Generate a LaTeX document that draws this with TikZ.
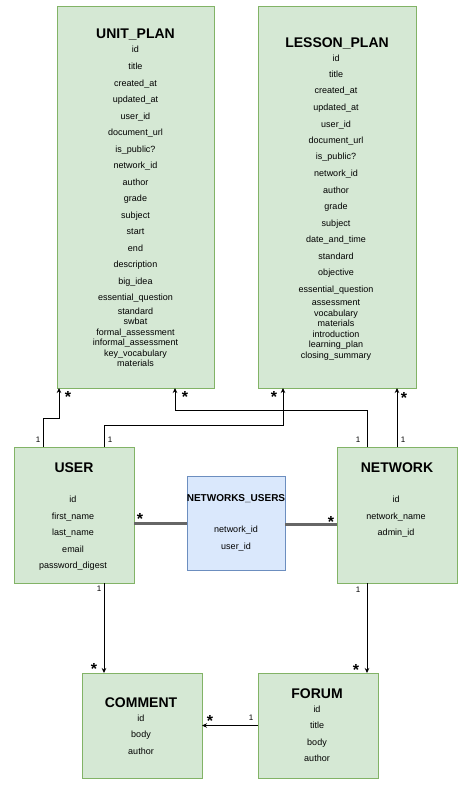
\documentclass[tikz,border=0pt]{standalone}
\usepackage{fontspec}
\setmainfont{Liberation Sans}[BoldFont={Liberation Sans Bold}]
\usetikzlibrary{arrows.meta,calc}
\definecolor{gfill}{HTML}{D5E8D4}
\definecolor{gline}{HTML}{82B366}
\definecolor{bfill}{HTML}{DAE8FC}
\definecolor{bline}{HTML}{6C8EBF}
\definecolor{conn}{HTML}{666666}
\begin{document}
\begin{tikzpicture}[x=1pt,y=-1pt,
 entity/.style={draw=gline,fill=gfill,line width=1pt,anchor=north west,inner sep=0,outer sep=0},
 joinbox/.style={draw=bline,fill=bfill,line width=1pt,anchor=north west,inner sep=0,outer sep=0},
 ttl/.style={font=\bfseries\fontsize{14}{14}\selectfont,inner sep=0,anchor=base,yshift=-5pt},
 ttlsm/.style={font=\bfseries\fontsize{10}{10}\selectfont,inner sep=0,anchor=base,yshift=-3.6pt},
 fld/.style={font=\fontsize{9}{9}\selectfont,inner sep=0,anchor=base,yshift=-3.2pt},
 card/.style={font=\fontsize{8}{8}\selectfont,inner sep=0,anchor=base,yshift=-2.9pt},
 many/.style={font=\bfseries\fontsize{16}{16}\selectfont,inner sep=0,anchor=base,yshift=-9pt},
 arr/.style={-{Stealth[length=5pt,width=4.5pt]},line width=0.8pt},
 assoc/.style={line width=3pt,draw=conn}]
\useasboundingbox[fill=white] (0,0) rectangle (473,787);

% ---- boxes ----
\node[entity,minimum width=157pt,minimum height=382pt] (unit) at (57,6) {};
\node[entity,minimum width=158pt,minimum height=382pt] (lesson) at (258,6) {};
\node[entity,minimum width=120pt,minimum height=136pt] (user) at (14,447) {};
\node[entity,minimum width=120pt,minimum height=136pt] (network) at (337,447) {};
\node[joinbox,minimum width=98pt,minimum height=94pt] (nu) at (187,476) {};
\node[entity,minimum width=120pt,minimum height=105pt] (comment) at (82,673) {};
\node[entity,minimum width=120pt,minimum height=105pt] (forum) at (258,673) {};

% ---- UNIT_PLAN ----
\node[ttl] (unitT) at (135.5,33) {UNIT\_PLAN};
\foreach \t/\y [count=\i] in {id/49,title/66,created\_at/83,updated\_at/99,user\_id/116,document\_url/132,is\_public?/149,network\_id/165,author/182,grade/198,subject/215,start/231,end/248,description/264,big\_idea/281,essential\_question/297,standard/311,swbat/321,formal\_assessment/332,informal\_assessment/342,key\_vocabulary/353,materials/363}
  \node[fld] (uf\i) at (135.5,\y) {\t};

% ---- LESSON_PLAN ----
\node[ttl] (lessonT) at (337,42) {LESSON\_PLAN};
\foreach \t/\y [count=\i] in {id/58,title/74,created\_at/90,updated\_at/107,user\_id/124,document\_url/140,is\_public?/156,network\_id/173,author/190,grade/206,subject/223,date\_and\_time/239,standard/256,objective/272,essential\_question/289,assessment/302,vocabulary/313,materials/323,introduction/334,learning\_plan/344,closing\_summary/355}
  \node[fld] (lf\i) at (336,\y) {\t};

% ---- USER ----
\node[ttl] (userT) at (74,467) {USER};
\foreach \t/\y [count=\i] in {id/499,first\_name/516,last\_name/532,email/549,password\_digest/565}
  \node[fld] (sf\i) at (73,\y) {\t};

% ---- NETWORK ----
\node[ttl] (networkT) at (397,467) {NETWORK};
\foreach \t/\y [count=\i] in {id/499,network\_name/516,admin\_id/532}
  \node[fld] (nf\i) at (396,\y) {\t};

% ---- NETWORKS_USERS ----
\node[ttlsm] (nuT) at (236,498) {NETWORKS\_USERS};
\foreach \t/\y [count=\i] in {network\_id/529,user\_id/546}
  \node[fld] (jf\i) at (236,\y) {\t};

% ---- COMMENT ----
\node[ttl] (commentT) at (141,702) {COMMENT};
\foreach \t/\y [count=\i] in {id/718,body/734,author/751}
  \node[fld] (cf\i) at (141,\y) {\t};

% ---- FORUM ----
\node[ttl] (forumT) at (317,693) {FORUM};
\foreach \t/\y [count=\i] in {id/709,title/725,body/742,author/758}
  \node[fld] (ff\i) at (317,\y) {\t};

% ---- connectors ----
\draw[arr] ([xshift=29pt]user.north west) -- ++(0,-29) -| ([xshift=2pt]unit.south west);
\draw[arr] ([xshift=30pt]network.north west) -- ++(0,-37) -| ([xshift=118pt]unit.south west);
\draw[arr] ([xshift=90pt]user.north west) -- ++(0,-22) -| ([xshift=25pt]lesson.south west);
\draw[arr] ([xshift=60pt]network.north west) -- ([xshift=60pt]network.north west |- lesson.south);
\draw[arr] ([xshift=90pt]user.south west) -- ([xshift=22pt]comment.north west);
\draw[arr] ([xshift=30pt]network.south west) -- ([xshift=109pt]forum.north west);
\draw[arr] (forum.west) -- (comment.east);
\draw[assoc] ([yshift=-8pt]user.east) -- (nu.west);
\draw[assoc] ([yshift=-1pt]nu.east) -- ([yshift=-1pt]nu.east -| network.west);

% ---- cardinalities ----
\node[many] (m1) at (68,393) {*};
\node[many] (m2) at (185,393) {*};
\node[many] (m3) at (274,393) {*};
\node[many] (m4) at (404,394) {*};
\node[many] (m5) at (140,515) {*};
\node[many] (m6) at (331,518) {*};
\node[many] (m7) at (94,665) {*};
\node[many] (m8) at (210,717) {*};
\node[many] (m9) at (356,666) {*};
\node[card] (o1) at (38,440) {1};
\node[card] (o2) at (110,440) {1};
\node[card] (o3) at (358,440) {1};
\node[card] (o4) at (403,440) {1};
\node[card] (o5) at (99,589) {1};
\node[card] (o6) at (358,590) {1};
\node[card] (o7) at (251,718) {1};
\end{tikzpicture}
\end{document}
